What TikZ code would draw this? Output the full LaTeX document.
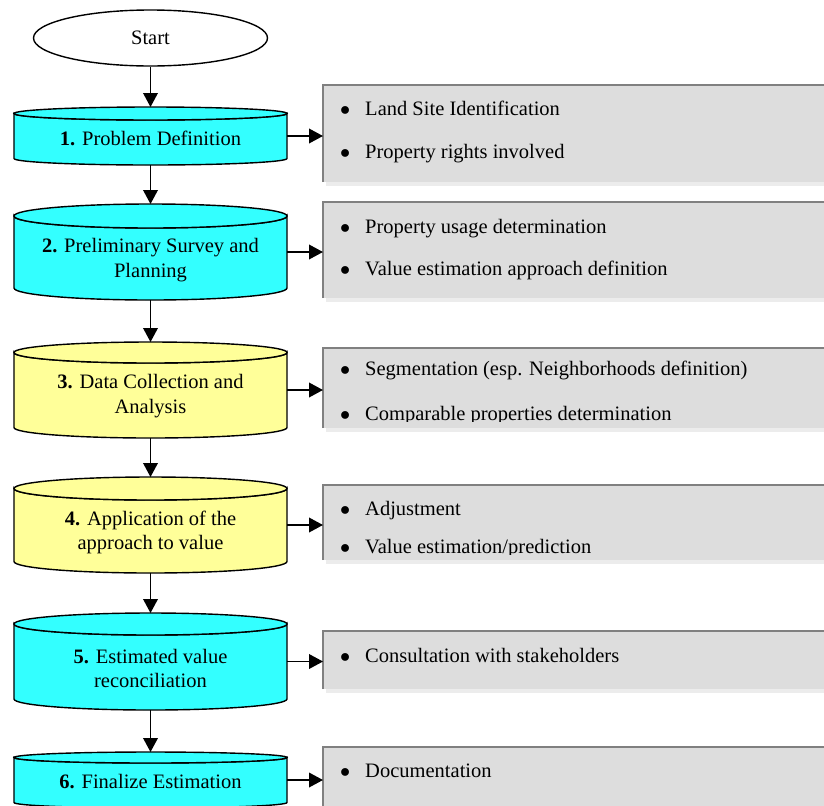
\documentclass[tikz,border=0pt]{standalone}
\usepackage{fontspec}
\setmainfont{Liberation Serif}
\usepackage{xcolor}
\definecolor{drumcyan}{RGB}{51,255,255}
\definecolor{drumyellow}{RGB}{255,255,153}
\definecolor{panelgrey}{RGB}{221,221,221}
\definecolor{rimgrey}{RGB}{128,128,128}
\definecolor{shadegrey}{RGB}{236,236,236}
\usepackage{tikz}
\usetikzlibrary{
    shapes.geometric,
    arrows.meta,
    positioning,
    backgrounds,
    shadows
}

\newcommand{\drumfont}{\fontsize{17.5}{21.25}\selectfont}
\newcommand{\bul}[1]{\makebox[0.75cm][l]{$\bullet$}#1}

% cylinder outline round a drum node: name, end radius, colour
\newcommand{\drum}[3]{%
    \filldraw[drumline, fill=#3]
        ([yshift=#2-0.24cm]#1.north west) -- ([yshift=#2]#1.south west)
        arc[start angle=180, end angle=360, x radius=4.095cm, y radius=#2]
        -- ([yshift=#2-0.24cm]#1.north east)
        arc[start angle=0, end angle=-180, x radius=4.095cm, y radius=#2] -- cycle;
    \filldraw[drumline, fill=#3] ([yshift=#2-0.24cm]#1.north) ellipse[x radius=4.095cm, y radius=#2];
}

\begin{document}
\begin{tikzpicture}[
        x=0.03cm, y=-0.03cm,
        terminal/.style={ellipse, draw, line width=1.2pt, fill=white, minimum width=7.02cm, minimum height=1.68cm, font=\drumfont},
        drum/.style={rectangle, inner sep=0pt, outer sep=0pt, minimum width=8.19cm, align=center, font=\drumfont},
        drumline/.style={line width=1.2pt, draw=black},
        panel/.style={rectangle, anchor=north west, fill=panelgrey, inner sep=0pt, outer sep=0pt, minimum width=15.81cm,
            drop shadow={shadow xshift=0.09cm, shadow yshift=-0.12cm, fill=shadegrey, opacity=1}},
        rim/.style={line width=1.6pt, rimgrey},
        item/.style={anchor=base west, inner sep=0pt, font=\drumfont},
        flow/.style={line width=1.3pt, -{Triangle[length=0.42cm, width=0.44cm]}}
    ]
    \useasboundingbox (0,0) rectangle (824,805);

    \node[terminal] (start) at (150.5,38) {Start};

    \node[drum, minimum height=1.59cm] (p1) at (150.5,138.5) {\textbf{1.} Problem Definition};
    \node[drum, minimum height=2.40cm] (p2) at (150.5,260) {\textbf{2.} Preliminary Survey and\\Planning};
    \node[drum, minimum height=2.49cm] (p3) at (150.5,396.5) {\textbf{3.} Data Collection and\\Analysis};
    \node[drum, minimum height=2.43cm] (p4) at (150.5,532.5) {\textbf{4.} Application of the\\approach to value};
    \node[drum, minimum height=2.49cm] (p5) at (150.5,668.5) {\textbf{5.} Estimated value\\reconciliation};
    \node[drum, minimum height=1.59cm] (p6) at (150.5,781.5) {\textbf{6.} Finalize Estimation};

    \begin{scope}[on background layer]
        \drum{p1}{0.195cm}{drumcyan}
        \drum{p2}{0.36cm}{drumcyan}
        \drum{p3}{0.315cm}{drumyellow}
        \drum{p4}{0.345cm}{drumyellow}
        \drum{p5}{0.33cm}{drumcyan}
        \drum{p6}{0.165cm}{drumcyan}
    \end{scope}

    % side panels
    \node[panel, minimum height=2.91cm] (b1) at (323,85) {};
    \node[panel, minimum height=2.88cm] (b2) at (323,202) {};
    \node[panel, minimum height=2.40cm] (b3) at (323,348) {};
    \node[panel, minimum height=2.25cm] (b4) at (323,485) {};
    \node[panel, minimum height=1.74cm] (b5) at (323,631) {};
    \node[panel, minimum height=2.79cm] (b6) at (323,747) {};

    \draw[rim] (b1.south west) -- (b1.north west) -- (b1.north east);
    \draw[rim] (b2.south west) -- (b2.north west) -- (b2.north east);
    \draw[rim] (b3.south west) -- (b3.north west) -- (b3.north east);
    \draw[rim] (b4.south west) -- (b4.north west) -- (b4.north east);
    \draw[rim] (b5.south west) -- (b5.north west) -- (b5.north east);
    \draw[rim] (b6.south west) -- (b6.north west) -- (b6.north east);

    \node[item] (i1a) at (340,115) {\bul{Land Site Identification}};
    \node[item] (i1b) at (340,158) {\bul{Property rights involved}};
    \node[item] (i2a) at (340,233) {\bul{Property usage determination}};
    \node[item] (i2b) at (340,275) {\bul{Value estimation approach definition}};
    \begin{scope}
        \clip (b3.north west) rectangle ([yshift=0.21cm]b3.south east);
        \node[item] (i3a) at (340,375) {\bul{Segmentation (esp. Neighborhoods definition)}};
        \node[item] (i3b) at (340,420) {\bul{Comparable properties determination}};
    \end{scope}
    \begin{scope}
        \clip (b4.north west) rectangle ([yshift=0.18cm]b4.south east);
        \node[item] (i4a) at (340,515) {\bul{Adjustment}};
        \node[item] (i4b) at (340,553) {\bul{Value estimation/prediction}};
    \end{scope}
    \node[item] (i5a) at (340,662) {\bul{Consultation with stakeholders}};
    \node[item] (i6a) at (340,777) {\bul{Documentation}};

    % main flow
    \draw[flow] (start) -- ([yshift=0.15cm]p1.north);
    \draw[flow] (p1) -- ([yshift=0.48cm]p2.north);
    \draw[flow] (p2) -- ([yshift=0.39cm]p3.north);
    \draw[flow] (p3) -- ([yshift=0.45cm]p4.north);
    \draw[flow] (p4) -- ([yshift=0.42cm]p5.north);
    \draw[flow] (p5) -- ([yshift=0.09cm]p6.north);

    \draw[flow] ([yshift=0.075cm]p1.east) -- ([yshift=0.075cm]p1.east -| b1.west);
    \draw[flow] ([yshift=0.24cm]p2.east) -- ([yshift=0.24cm]p2.east -| b2.west);
    \draw[flow] ([yshift=0.195cm]p3.east) -- ([yshift=0.195cm]p3.east -| b3.west);
    \draw[flow] ([yshift=0.225cm]p4.east) -- ([yshift=0.225cm]p4.east -| b4.west);
    \draw[flow] ([yshift=0.21cm]p5.east) -- ([yshift=0.21cm]p5.east -| b5.west);
    \draw[flow] ([yshift=0.045cm]p6.east) -- ([yshift=0.045cm]p6.east -| b6.west);
\end{tikzpicture}
\end{document}
